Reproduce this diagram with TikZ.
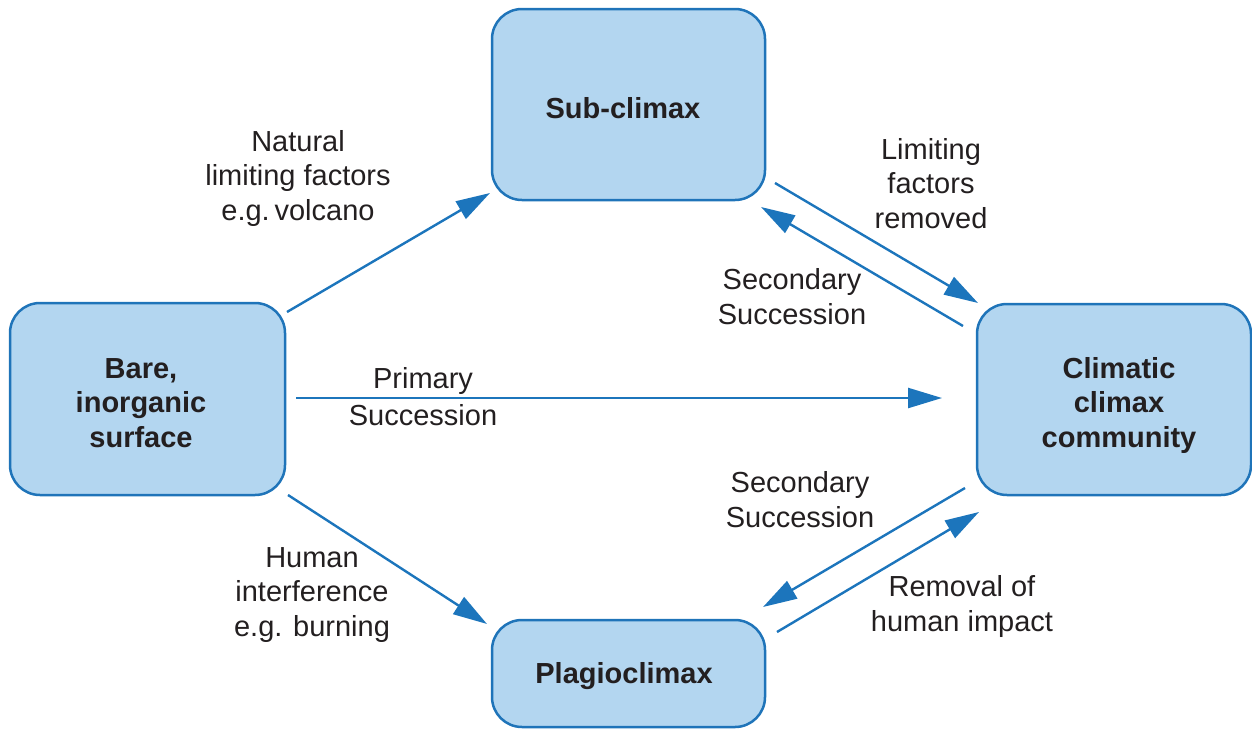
\documentclass[tikz,border=0pt]{standalone}
\usepackage{fontspec}
\setmainfont{Liberation Sans}
\usetikzlibrary{arrows.meta}
\definecolor{boxfill}{HTML}{B3D6F0}
\definecolor{boxline}{HTML}{1F74B9}
\definecolor{arrowblue}{HTML}{1C75BC}
\definecolor{txt}{HTML}{231F20}
\begin{document}
\begin{tikzpicture}[x=1pt,y=-1pt,
  box/.style={draw=boxline, fill=boxfill, line width=2.5pt, rounded corners=30pt,
              minimum width=273pt, minimum height=191pt, inner sep=0pt},
  lbl/.style={text=txt, align=center, font=\fontsize{29}{34.5}\selectfont, anchor=base, inner sep=0pt},
  blbl/.style={lbl, font=\fontsize{29}{34.5}\selectfont\bfseries},
  arr/.style={draw=arrowblue, line width=2.4pt, -{Triangle[length=34pt,width=20pt]}}
]
\useasboundingbox (0,0) rectangle (1252,728);

% boxes
\node[box] (sub)  at (628.5,104.5) {};
\node[box, minimum width=275pt, minimum height=192pt] (bare) at (147.5,399) {};
\node[box, minimum width=274pt] (clim) at (1114,399.5) {};
\node[box, minimum height=107pt] (plag) at (628.5,673.5) {};

% box texts (anchor = baseline of last line)
\node[blbl] (tsub)  at (623,118) {Sub-climax};
\node[blbl] (tbare) at (141,447) {Bare,\\inorganic\\surface};
\node[blbl] (tclim) at (1119,447) {Climatic\\climax\\community};
\node[blbl] (tplag) at (624,683) {Plagioclimax};

% arrow end points
\coordinate (a1s) at (287,312);  \coordinate (a1e) at (490,193);
\coordinate (a2s) at (775,183);  \coordinate (a2e) at (978,303);
\coordinate (a3s) at (963,326);  \coordinate (a3e) at (761,207);
\coordinate (a4s) at (296,398);  \coordinate (a4e) at (942,398);
\coordinate (a5s) at (288,495);  \coordinate (a5e) at (487,624);
\coordinate (a6s) at (965,488);  \coordinate (a6e) at (763,607);
\coordinate (a7s) at (777,632);  \coordinate (a7e) at (979,512);

\draw[arr] (a1s) -- (a1e);
\draw[arr] (a2s) -- (a2e);
\draw[arr] (a3s) -- (a3e);
\draw[arr] (a4s) -- (a4e);
\draw[arr] (a5s) -- (a5e);
\draw[arr] (a6s) -- (a6e);
\draw[arr] (a7s) -- (a7e);

% labels (anchor = baseline of last line)
\node[lbl] (lnat)  at (298,220) {Natural\\limiting factors\\e.g.\,volcano};
\node[lbl] (llim)  at (931,228) {Limiting\\factors\\removed};
\node[lbl] (lsec1) at (792,324) {Secondary\\Succession};
\node[lbl] (lprim) at (423,425) {Primary\\[2.5pt]Succession};
\node[lbl] (lsec2) at (800,527) {Secondary\\Succession};
\node[lbl] (lhum)  at (312,636) {Human\\interference\\e.g. burning};
\node[lbl] (lrem)  at (962,631) {Removal of\\human impact};
\end{tikzpicture}
\end{document}
